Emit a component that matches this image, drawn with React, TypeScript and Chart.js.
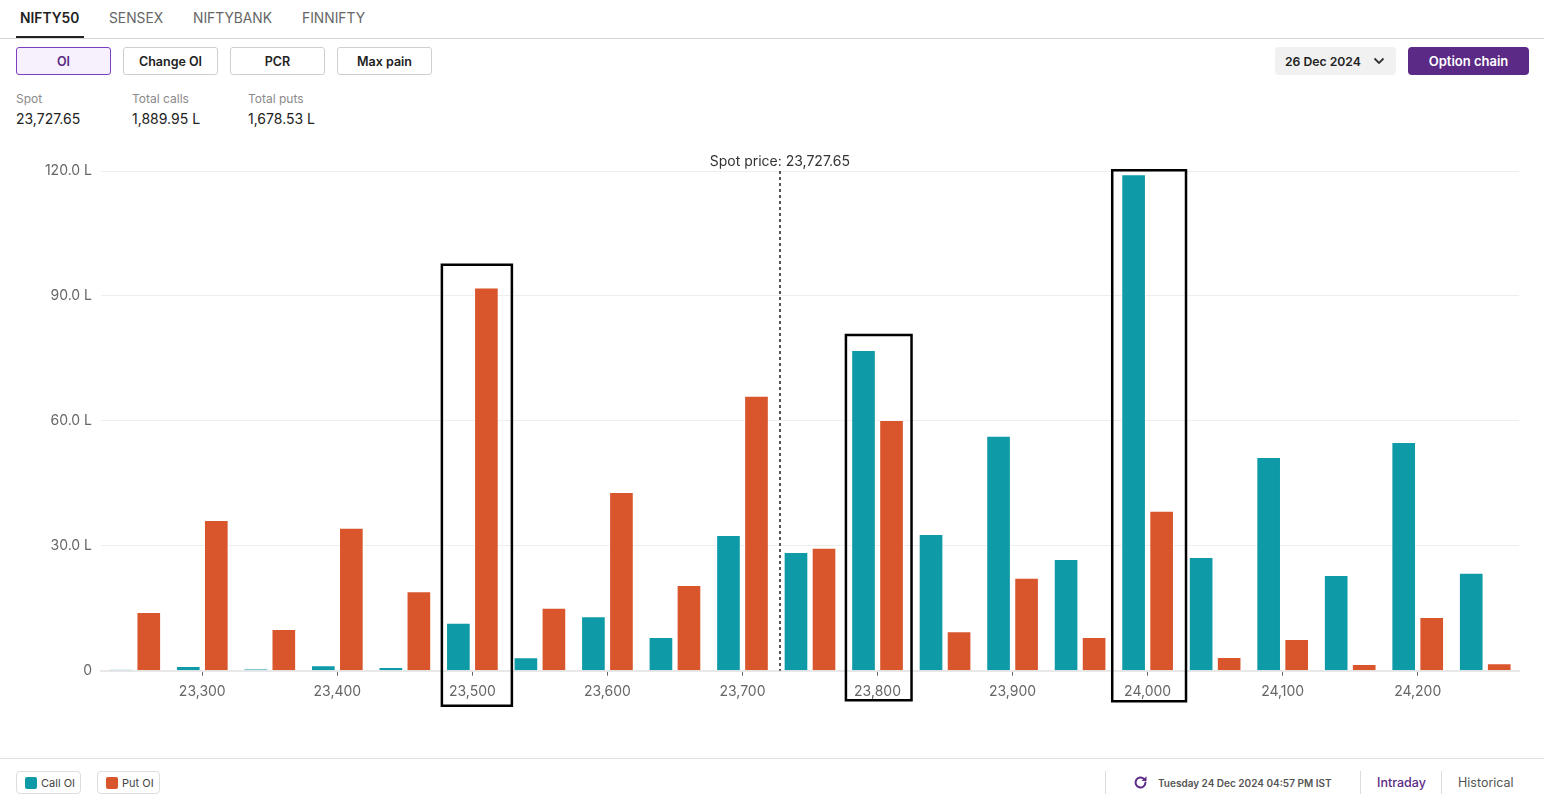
import React, { useEffect, useRef } from "react";
import { Chart, registerables } from "chart.js";

Chart.register(...registerables);

const strikes = [23250, 23300, 23350, 23400, 23450, 23500, 23550, 23600, 23650, 23700, 23750, 23800, 23850, 23900, 23950, 24000, 24050, 24100, 24150, 24200, 24250];
const strikeLabels = ["23,250", "23,300", "23,350", "23,400", "23,450", "23,500", "23,550", "23,600", "23,650", "23,700", "23,750", "23,800", "23,850", "23,900", "23,950", "24,000", "24,050", "24,100", "24,150", "24,200", "24,250"];
const callOI = [0.3, 1.1, 0.4, 1.3, 0.9, 11.5, 3.2, 13.1, 8.1, 32.6, 28.5, 77.0, 32.8, 56.4, 26.8, 119.2, 27.3, 51.3, 23.0, 54.9, 23.5];
const putOI = [14.1, 36.2, 10.0, 34.3, 19.1, 92.0, 15.1, 42.9, 20.6, 66.0, 29.5, 60.2, 9.5, 22.3, 8.1, 38.4, 3.3, 7.6, 1.6, 12.9, 1.8];
const yTicks = [0, 30, 60, 90, 120];
const spotPrice = 23727.65;
const spotText = "Spot price: 23,727.65";
const highlightStrikes = [23500, 23800, 24000];
const highlightTops = [97.5, 80.6, 120.2];

const FONT = "Inter, 'Noto Sans', sans-serif";
const CALL_COLOR = "#0f9aa7";
const PUT_COLOR = "#d9552b";

const boxGeometry = [
  { left: -30.5, right: 39.5, below: 35 },
  { left: -31.6, right: 34, below: 29.5 },
  { left: -35.4, right: 38.4, below: 30.5 },
];

function strikeToPixel(scale: any, value: number) {
  for (let i = 0; i < strikes.length - 1; i++) {
    if (value >= strikes[i] && value <= strikes[i + 1]) {
      const a = scale.getPixelForValue(i);
      const b = scale.getPixelForValue(i + 1);
      return a + ((value - strikes[i]) / (strikes[i + 1] - strikes[i])) * (b - a);
    }
  }
  return scale.getPixelForValue(0);
}

const overlayPlugin = {
  id: "overlay",
  afterDatasetsDraw(chart: any) {
    const { ctx, chartArea, scales } = chart;
    const x = strikeToPixel(scales.x, spotPrice);
    ctx.save();
    ctx.strokeStyle = "#555";
    ctx.lineWidth = 2;
    ctx.setLineDash([3, 3]);
    ctx.beginPath();
    ctx.moveTo(Math.round(x), chartArea.top);
    ctx.lineTo(Math.round(x), chartArea.bottom);
    ctx.stroke();
    ctx.setLineDash([]);
    ctx.fillStyle = "#333";
    ctx.font = `14px ${FONT}`;
    ctx.textAlign = "center";
    ctx.textBaseline = "middle";
    ctx.fillText(spotText, x, chartArea.top - 9);

    ctx.strokeStyle = "#000";
    ctx.lineWidth = 2.5;
    highlightStrikes.forEach((s, i) => {
      const idx = strikes.indexOf(s);
      const cx = scales.x.getPixelForValue(idx);
      const g = boxGeometry[i];
      const top = scales.y.getPixelForValue(highlightTops[i]);
      const bottom = scales.y.getPixelForValue(0) + g.below;
      ctx.beginPath();
      ctx.rect(cx + g.left, top, g.right - g.left, bottom - top);
      ctx.stroke();
    });
    ctx.restore();
  },
};

function OIChart() {
  const ref = useRef<HTMLCanvasElement | null>(null);
  useEffect(() => {
    if (!ref.current) return;
    const chart = new Chart(ref.current, {
      type: "bar",
      data: {
        labels: strikeLabels,
        datasets: [
          {
            label: "Call OI",
            data: callOI,
            backgroundColor: CALL_COLOR,
            borderColor: "rgba(255,255,255,0.45)",
            borderWidth: 1,
            barPercentage: 0.88,
            categoryPercentage: 0.83,
          },
          {
            label: "Put OI",
            data: putOI,
            backgroundColor: PUT_COLOR,
            borderColor: "rgba(255,255,255,0.45)",
            borderWidth: 1,
            barPercentage: 0.88,
            categoryPercentage: 0.83,
          },
        ],
      },
      options: {
        animation: false,
        responsive: false,
        maintainAspectRatio: false,
        layout: { padding: { top: 31, right: 25, left: 0, bottom: 0 } },
        plugins: { legend: { display: false }, tooltip: { enabled: false } },
        scales: {
          x: {
            offset: true,
            grid: {
              offset: false,
              drawOnChartArea: false,
              drawTicks: true,
              tickLength: 5,
              tickWidth: 1,
              tickColor: (c: any) => (c.index % 2 === 1 ? "#666" : "rgba(0,0,0,0)"),
            },
            border: { display: true, color: "#e8e8e8", width: 2 },
            ticks: {
              autoSkip: false,
              maxRotation: 0,
              padding: 8,
              color: "#666",
              font: { family: FONT, size: 14 },
              callback: (_v: any, i: number) => (i % 2 === 1 ? strikeLabels[i] : ""),
            },
            afterFit: (s: any) => {
              s.height = 49.3;
            },
          },
          y: {
            min: yTicks[0],
            max: yTicks[yTicks.length - 1],
            afterBuildTicks: (s: any) => {
              s.ticks = yTicks.map((v) => ({ value: v }));
            },
            grid: { color: "#eeeeee", lineWidth: 1, drawTicks: false },
            border: { display: false },
            ticks: {
              padding: 9,
              color: "#666",
              font: { family: FONT, size: 14 },
              callback: (v: any) => (Number(v) === 0 ? "0" : Number(v).toFixed(1) + " L"),
            },
            afterFit: (s: any) => {
              s.width = 101;
            },
          },
        },
      },
      plugins: [overlayPlugin],
    } as any);
    return () => chart.destroy();
  }, []);
  return <canvas ref={ref} width={1544} height={580} style={{ position: "absolute", left: 0, top: 140, width: 1544, height: 580 }} />;
}

const abs = (x: number, y: number, extra: React.CSSProperties = {}): React.CSSProperties => ({
  position: "absolute",
  left: x,
  top: y,
  ...extra,
});

function Button({ x, w, label, active }: { x: number; w: number; label: string; active?: boolean }) {
  return (
    <div
      style={abs(x, 47, {
        width: w,
        height: 28,
        boxSizing: "border-box",
        border: `1px solid ${active ? "#7b3fc0" : "#cfcfcf"}`,
        background: active ? "#f6f1fc" : "#fff",
        borderRadius: 3,
        display: "flex",
        alignItems: "center",
        justifyContent: "center",
        fontSize: 12.5,
        fontWeight: 600,
        color: active ? "#5b2a86" : "#222",
      })}
    >
      {label}
    </div>
  );
}

function Stat({ x, label, value }: { x: number; label: string; value: string }) {
  return (
    <>
      <div style={abs(x, 91, { fontSize: 12, color: "#8a8a8a", lineHeight: "16px" })}>{label}</div>
      <div style={abs(x, 110, { fontSize: 14, color: "#222", lineHeight: "18px" })}>{value}</div>
    </>
  );
}

export default function App() {
  return (
    <div
      style={{
        position: "fixed",
        left: 0,
        top: 0,
        width: 1544,
        height: 803,
        background: "#fff",
        fontFamily: FONT,
        overflow: "hidden",
      }}
    >
      {/* tabs */}
      <div style={abs(20, 9, { fontSize: 13.8, fontWeight: 600, color: "#222", lineHeight: "18px" })}>NIFTY50</div>
      <div style={abs(109, 9, { fontSize: 13.8, color: "#666", lineHeight: "18px" })}>SENSEX</div>
      <div style={abs(193, 9, { fontSize: 13.8, color: "#666", lineHeight: "18px" })}>NIFTYBANK</div>
      <div style={abs(302, 9, { fontSize: 13.8, color: "#666", lineHeight: "18px" })}>FINNIFTY</div>
      <div style={abs(16, 36, { width: 68, height: 2, background: "#222" })} />
      <div style={abs(0, 38, { width: 1544, height: 1, background: "#d6d6d6" })} />

      {/* buttons */}
      <Button x={16} w={95} label="OI" active />
      <Button x={123} w={95} label="Change OI" />
      <Button x={230} w={95} label="PCR" />
      <Button x={337} w={95} label="Max pain" />

      <div
        style={abs(1275, 47, {
          width: 121,
          height: 28,
          background: "#f1f1f1",
          borderRadius: 4,
          fontSize: 12.2,
          fontWeight: 600,
          color: "#222",
          display: "flex",
          alignItems: "center",
        })}
      >
        <span style={{ marginLeft: 10 }}>26 Dec 2024</span>
        <svg width="12" height="8" viewBox="0 0 12 8" style={{ marginLeft: 12 }}>
          <polyline points="1.5,1.5 6,6 10.5,1.5" fill="none" stroke="#333" strokeWidth="1.8" />
        </svg>
      </div>
      <div
        style={abs(1408, 47, {
          width: 121,
          height: 28,
          background: "#5b2a86",
          borderRadius: 4,
          fontSize: 13,
          fontWeight: 600,
          color: "#fff",
          display: "flex",
          alignItems: "center",
          justifyContent: "center",
        })}
      >
        Option chain
      </div>

      {/* stats */}
      <Stat x={16} label="Spot" value="23,727.65" />
      <Stat x={132} label="Total calls" value="1,889.95 L" />
      <Stat x={248} label="Total puts" value="1,678.53 L" />

      <OIChart />

      {/* footer */}
      <div style={abs(0, 758, { width: 1544, height: 1, background: "#e2e2e2" })} />
      {[
        { x: 16, w: 65, label: "Call OI", color: CALL_COLOR },
        { x: 97, w: 63, label: "Put OI", color: PUT_COLOR },
      ].map((l) => (
        <div
          key={l.label}
          style={abs(l.x, 771, {
            width: l.w,
            height: 23,
            boxSizing: "border-box",
            border: "1px solid #dddddd",
            borderRadius: 4,
            display: "flex",
            alignItems: "center",
            fontSize: 11,
            color: "#444",
          })}
        >
          <span style={{ width: 12, height: 12, background: l.color, borderRadius: 2, marginLeft: 8, marginRight: 4 }} />
          {l.label}
        </div>
      ))}

      <div style={abs(1105, 771, { width: 1, height: 23, background: "#dcdcdc" })} />
      <svg width="17" height="17" viewBox="0 0 24 24" style={abs(1132, 774)}>
        <path d="M19 12a7 7 0 1 1-2.05-4.95" fill="none" stroke="#5b2a86" strokeWidth="2.8" strokeLinecap="round" />
        <polygon points="20.5,3 20.5,10 13.5,10" fill="#5b2a86" />
      </svg>
      <div style={abs(1158, 776, { fontSize: 10, fontWeight: 600, color: "#555", lineHeight: "14px" })}>
        Tuesday 24 Dec 2024 04:57 PM IST
      </div>
      <div style={abs(1360, 771, { width: 1, height: 23, background: "#dcdcdc" })} />
      <div style={abs(1377, 774, { fontSize: 12.5, fontWeight: 500, color: "#5b2a86", lineHeight: "18px" })}>Intraday</div>
      <div style={abs(1441, 771, { width: 1, height: 23, background: "#dcdcdc" })} />
      <div style={abs(1458, 774, { fontSize: 12.5, color: "#555", lineHeight: "18px" })}>Historical</div>
    </div>
  );
}
